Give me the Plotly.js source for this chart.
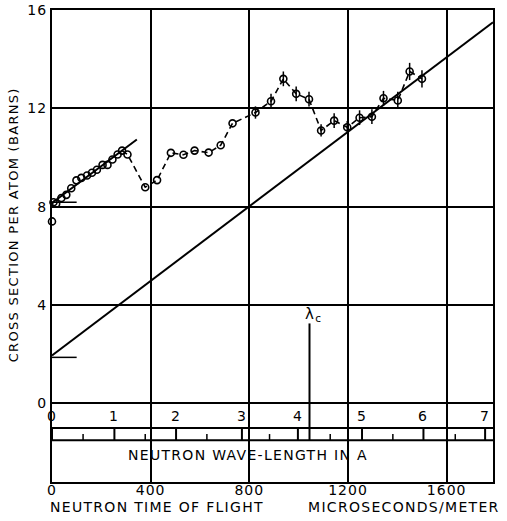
<!DOCTYPE html>
<html>
<head>
<meta charset="utf-8">
<script src="https://cdn.plot.ly/plotly-3.0.1.min.js"></script>
<style>
  html, body { margin: 0; padding: 0; background: #fff; }
  #chart { width: 507px; height: 521px; }
  text { letter-spacing: 1px; }
  text.annotation-text { letter-spacing: 1.3px; }
</style>
</head>
<body>
<div id="chart"></div>
<script>
// ---- Data ----
// Time of flight (microseconds/meter) and cross section (barns)
const groupAx = [0, 6, 17, 38, 58, 78, 99, 119, 142, 162, 182, 205, 225, 245, 266];
const groupAy = [7.40, 8.18, 8.12, 8.35, 8.48, 8.75, 9.07, 9.17, 9.27, 9.38, 9.50, 9.70, 9.70, 9.92, 10.12];

const groupBx = [284, 306, 378, 426, 482, 533, 578, 635, 684, 732, 825, 888, 938, 990, 1042, 1091, 1144, 1197, 1247, 1297, 1344, 1402, 1450, 1500];
const groupBy = [10.28, 10.12, 8.79, 9.08, 10.19, 10.11, 10.28, 10.20, 10.50, 11.39, 11.83, 12.29, 13.20, 12.59, 12.37, 11.10, 11.50, 11.23, 11.62, 11.66, 12.41, 12.32, 13.50, 13.20];
const groupBerr = [0, 0, 0, 0, 0, 0, 0, 0, 0, 0, 0.25, 0.3, 0.3, 0.3, 0.3, 0.25, 0.3, 0.25, 0.3, 0.3, 0.3, 0.35, 0.35, 0.35];

// Straight reference lines
const longLineX = [0, 1788];
const longLineY = [1.95, 15.5];
const shortFitX = [0, 344];
const shortFitY = [8.15, 10.73];
const markUpperX = [0, 100];
const markUpperY = [8.18, 8.18];
const markLowerX = [0, 100];
const markLowerY = [1.87, 1.87];

// Cut-off wavelength marker
const lambdaCx = 1044;
const lambdaCtop = 3.25;

// Wavelength scale (Angstrom) positions on the time axis
const wlLabels = ['0', '1', '2', '3', '4', '5', '6', '7'];
const wlMajorPos = [0, 253, 503, 770, 997, 1257, 1506, 1756];
const wlMinorPos = [126, 378, 628, 882, 1128, 1382, 1635];

// Axis ticks
const xTicks = [0, 400, 800, 1200, 1600];
const yTicks = [0, 4, 8, 12, 16];

// ---- Styles ----
const FONT = 'DejaVu Sans, Arial, sans-serif';
const BLACK = '#000';

const traces = [
  { x: longLineX, y: longLineY, mode: 'lines', line: { color: BLACK, width: 2 }, hoverinfo: 'skip' },
  { x: shortFitX, y: shortFitY, mode: 'lines', line: { color: BLACK, width: 2 }, hoverinfo: 'skip' },
  { x: markUpperX, y: markUpperY, mode: 'lines', line: { color: BLACK, width: 1.5 }, hoverinfo: 'skip' },
  { x: markLowerX, y: markLowerY, mode: 'lines', line: { color: BLACK, width: 1.5 }, hoverinfo: 'skip' },
  {
    x: groupBx, y: groupBy, mode: 'lines+markers',
    line: { color: BLACK, width: 1.6, dash: '6px,4px' },
    marker: { symbol: 'circle-open', size: 7, color: BLACK, line: { width: 1.6, color: BLACK } },
    error_y: { type: 'data', array: groupBerr, visible: true, color: BLACK, thickness: 1.5, width: 0 },
    cliponaxis: false
  },
  {
    x: groupAx, y: groupAy, mode: 'markers',
    marker: { symbol: 'circle-open', size: 7, color: BLACK, line: { width: 1.6, color: BLACK } },
    cliponaxis: false
  }
];

const shapes = [];
// band lines of the wavelength scale
[-1.0, -1.5].forEach(function (yy) {
  shapes.push({ type: 'line', xref: 'paper', yref: 'y', x0: 0, x1: 1, y0: yy, y1: yy, line: { color: BLACK, width: 2 } });
});
wlMajorPos.forEach(function (p) {
  shapes.push({ type: 'line', xref: 'x', yref: 'y', x0: p, x1: p, y0: -1.0, y1: -1.5, line: { color: BLACK, width: 2 } });
});
wlMinorPos.forEach(function (p) {
  shapes.push({ type: 'line', xref: 'x', yref: 'y', x0: p, x1: p, y0: -1.25, y1: -1.5, line: { color: BLACK, width: 1.5 } });
});
// lambda_c marker line
shapes.push({ type: 'line', xref: 'x', yref: 'y', x0: lambdaCx, x1: lambdaCx, y0: lambdaCtop, y1: -1.5, line: { color: BLACK, width: 2 } });

const annotations = [];
wlLabels.forEach(function (t, i) {
  annotations.push({ x: wlMajorPos[i], y: -0.5, xref: 'x', yref: 'y', text: t, showarrow: false,
    xanchor: 'center', yanchor: 'middle', font: { family: FONT, size: 14, color: BLACK } });
});
annotations.push({ x: 793, y: -2.1, xref: 'x', yref: 'y', text: 'NEUTRON WAVE-LENGTH IN A', showarrow: false,
  xanchor: 'center', yanchor: 'middle', font: { family: FONT, size: 14, color: BLACK } });
annotations.push({ x: 1062, y: 3.6, xref: 'x', yref: 'y', text: 'λ<sub>c</sub>', showarrow: false,
  xanchor: 'center', yanchor: 'middle', font: { family: FONT, size: 15, color: BLACK } });
annotations.push({ x: -0.0855, y: 0.5445, xref: 'paper', yref: 'paper', text: 'CROSS SECTION PER ATOM (BARNS)',
  textangle: -90, showarrow: false, xanchor: 'center', yanchor: 'middle', font: { family: FONT, size: 13, color: BLACK } });
annotations.push({ x: -0.009, y: -0.052, xref: 'paper', yref: 'paper', text: 'NEUTRON TIME OF FLIGHT',
  showarrow: false, xanchor: 'left', yanchor: 'middle', font: { family: FONT, size: 14, color: BLACK } });
annotations.push({ x: 1.02, y: -0.052, xref: 'paper', yref: 'paper', text: 'MICROSECONDS/METER',
  showarrow: false, xanchor: 'right', yanchor: 'middle', font: { family: FONT, size: 14, color: BLACK } });

const layout = {
  width: 507, height: 521,
  margin: { l: 52, r: 14, t: 10, b: 39 },
  paper_bgcolor: '#fff', plot_bgcolor: '#fff',
  showlegend: false,
  font: { family: FONT, color: BLACK },
  xaxis: {
    range: [0, 1788], tickvals: xTicks, ticktext: xTicks.map(String),
    showgrid: true, gridcolor: BLACK, gridwidth: 2,
    showline: true, linecolor: BLACK, linewidth: 2, mirror: true,
    ticks: '', zeroline: false, fixedrange: true, ticklabelstandoff: -6,
    tickfont: { family: FONT, size: 14, color: BLACK }
  },
  yaxis: {
    range: [-3.2, 16], tickvals: yTicks, ticktext: yTicks.map(String),
    showgrid: true, gridcolor: BLACK, gridwidth: 2,
    showline: true, linecolor: BLACK, linewidth: 2, mirror: true,
    ticks: '', zeroline: false, fixedrange: true,
    tickfont: { family: FONT, size: 14, color: BLACK }
  },
  shapes: shapes,
  annotations: annotations
};

Plotly.newPlot('chart', traces, layout, { displayModeBar: false, staticPlot: true });
</script>
</body>
</html>
